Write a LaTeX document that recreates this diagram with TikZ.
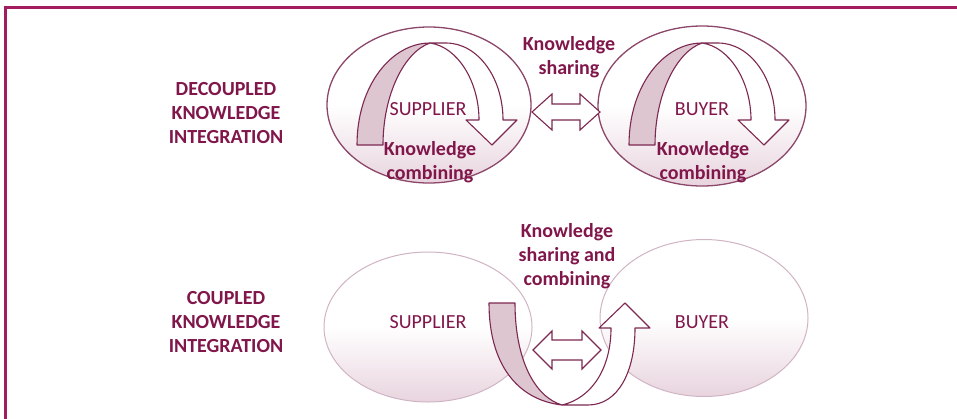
\documentclass[tikz,border=0pt]{standalone}
\usepackage{fontspec}
\setmainfont{Carlito}
\usetikzlibrary{shapes.geometric}
\definecolor{txt}{RGB}{128,22,74}
\definecolor{framec}{RGB}{163,28,95}
\definecolor{edgec}{RGB}{140,70,105}
\definecolor{edgelight}{RGB}{208,180,195}
\definecolor{backc}{RGB}{222,198,209}
\definecolor{pinkbot}{RGB}{232,212,222}
\definecolor{arrowc}{RGB}{125,40,80}
\begin{document}
\begin{tikzpicture}[x=1pt,y=-1pt,
  blob/.style={ellipse, draw=edgec, line width=1.3pt, top color=white, bottom color=pinkbot, middle color=white, inner sep=0pt},
  blobl/.style={blob, draw=edgelight, line width=1pt},
  heading/.style={text=txt, font=\bfseries\fontsize{20}{24}\selectfont, align=center, inner sep=0pt},
  party/.style={text=txt, font=\fontsize{20}{24}\selectfont, inner sep=0pt},
  ribbonback/.style={draw=arrowc, line width=1.1pt, fill=backc, line join=round},
  ribbonfront/.style={draw=arrowc, line width=1.1pt, fill=white, line join=round},
  dblarrow/.style={draw=arrowc, line width=1.1pt, fill=white, line join=miter}
]
\useasboundingbox (0,0) rectangle (957,418);
\draw[framec, line width=3pt] (5,440) -- (5,7) -- (980,7);

% decoupled
\node[blob, minimum width=204pt, minimum height=156pt] (sup1) at (429,105) {};
\node[blob, minimum width=208pt, minimum height=160pt] (buy1) at (702,106) {};

\foreach \dx in {0,272}{
\begin{scope}[xshift=\dx]
\path[ribbonback] (357,145) .. controls (357,85) and (392,43) .. (430,43)
   .. controls (404,52) and (383,95) .. (383,145) -- cycle;
\path[ribbonfront] (430,43) -- (446,43) .. controls (478,43) and (503,78) .. (503,120)
   -- (517,120) -- (492,145) -- (466,120) -- (479,120)
   .. controls (479,82) and (458,47) .. (430,43) -- cycle;
\end{scope}
}

\path[dblarrow] (532,112) -- (552,94) -- (552,104) -- (580,104) -- (580,94) -- (600,112)
  -- (580,130) -- (580,120) -- (552,120) -- (552,130) -- cycle;

\node[party] (suplab1) at (428,109) {SUPPLIER};
\node[party] (buylab1) at (702,109) {BUYER};
\node[heading] (comb1) at (430,162) {Knowledge\\combining};
\node[heading] (comb2) at (703,162) {Knowledge\\combining};
\node[heading] (share1) at (569,57) {Knowledge\\sharing};
\node[heading] (dec) at (226,113) {DECOUPLED\\KNOWLEDGE\\INTEGRATION};

% coupled
\node[blobl, minimum width=208pt, minimum height=150pt] (sup2) at (428,327) {};
\node[blobl, minimum width=208pt, minimum height=157pt] (buy2) at (704,318) {};

\path[ribbonback] (489,303) -- (515,303) .. controls (515,360) and (535,397) .. (562,405)
   .. controls (518,400) and (489,365) .. (489,303) -- cycle;
\path[ribbonfront] (562,405) -- (588,405) .. controls (618,405) and (635,372) .. (635,328)
   -- (650,328) -- (625,303) -- (599,328) -- (611,328)
   .. controls (611,368) and (592,398) .. (562,405) -- cycle;

\path[dblarrow] (533,350) -- (552,331) -- (552,340) -- (582,340) -- (582,331) -- (601,350)
  -- (582,369) -- (582,360) -- (552,360) -- (552,369) -- cycle;

\node[party] (suplab2) at (428,322) {SUPPLIER};
\node[party] (buylab2) at (702,322) {BUYER};
\node[heading] (share2) at (567,256) {Knowledge\\sharing and\\combining};
\node[heading] (cou) at (226,322) {COUPLED\\KNOWLEDGE\\INTEGRATION};
\end{tikzpicture}
\end{document}
